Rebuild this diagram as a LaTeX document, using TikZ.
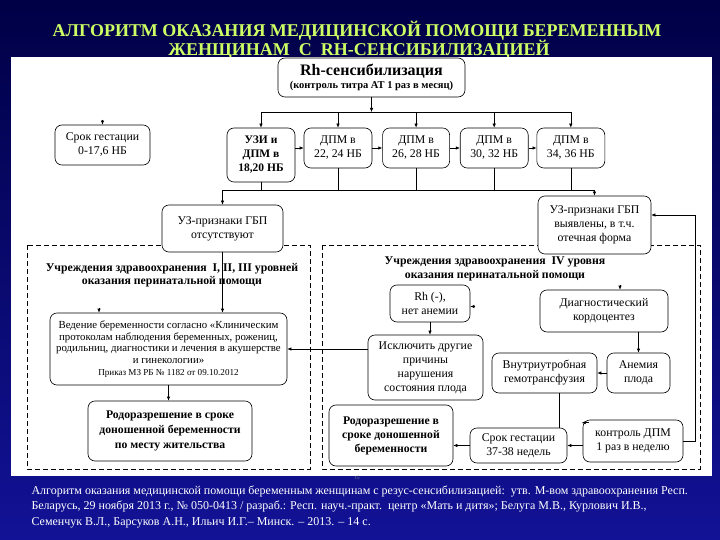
\documentclass[tikz,border=0pt]{standalone}
\usepackage{fontspec}
\setmainfont{Liberation Serif}
\usetikzlibrary{arrows.meta,positioning,calc}

\definecolor{slidetop}{RGB}{0,0,70}
\definecolor{slidebottom}{RGB}{18,18,150}
\definecolor{titlegreen}{RGB}{205,255,100}

\begin{document}
\begin{tikzpicture}[
  x=1pt, y=-1pt,
  font=\fontsize{11.8}{14}\selectfont,
  >={Latex[length=4pt,width=3.4pt]},
  box/.style={draw, rounded corners=7pt, fill=white, align=center, inner sep=1pt, line width=0.6pt},
  sz/.style 2 args={minimum width=#1, minimum height=#2},
  arr/.style={->, line width=0.6pt},
  lnk/.style={line width=0.6pt},
  zone/.style={draw, dash pattern=on 5pt off 3pt, line width=0.7pt},
  head/.style={font=\bfseries\fontsize{11.8}{13.5}\selectfont, align=center}
]
  % slide background and white panel
  \useasboundingbox (0,0) rectangle (720,540);
  \shade[top color=slidetop, bottom color=slidebottom] (0,0) rectangle (720,540);
  \fill[white] (11,57) rectangle (712,476);

  % title
  \node[text=titlegreen, font=\bfseries\fontsize{18}{18}\selectfont] (title1) at (357,31) {АЛГОРИТМ ОКАЗАНИЯ МЕДИЦИНСКОЙ ПОМОЩИ БЕРЕМЕННЫМ};
  \node[text=titlegreen, font=\bfseries\fontsize{18}{18}\selectfont] (title2) at (359,50) {ЖЕНЩИНАМ\ \ С\ \ RH-СЕНСИБИЛИЗАЦИЕЙ};
  \fill[white] (11,57) rectangle (712,60);

  % dashed zones
  \draw[zone] (27,245) rectangle (310,469);
  \draw[zone] (322,245) rectangle (700,469);
  \node[head] (lhead) at (172,275) {Учреждения здравоохранения\ \ I, II, III уровней\\оказания перинатальной помощи};
  \node[head] (rhead) at (495,269) {Учреждения здравоохранения\ \ IV уровня\\оказания перинатальной помощи};

  % upper part
  \node[box, sz={187pt}{39pt}] (rh) at (371.5,77.5) {{\bfseries\fontsize{16}{17}\selectfont Rh-сенсибилизация}\\[-1pt]{\bfseries\fontsize{10.5}{11}\selectfont (контроль титра АТ 1 раз в месяц)}};
  \node[box, sz={95pt}{40pt}] (sg) at (102.5,145) {Срок гестации\\0-17,6 НБ};
  \node[box, sz={68pt}{54pt}, font=\bfseries\fontsize{11.5}{14}\selectfont] (uzi) at (261,155) {УЗИ и\\ДПМ в\\18,20 НБ};
  \node[box, sz={68pt}{40pt}] (d22) at (338,148) {ДПМ в\\22, 24 НБ};
  \node[box, sz={67pt}{40pt}, right=10pt of d22] (d26) {ДПМ в\\26, 28 НБ};
  \node[box, sz={68pt}{40pt}, right=10pt of d26] (d30) {ДПМ в\\30, 32 НБ};
  \node[box, sz={68pt}{40pt}, right=8pt of d30] (d34) {ДПМ в\\34, 36 НБ};
  \node[box, sz={121pt}{47pt}] (gno) at (222.5,228.5) {УЗ-признаки ГБП\\отсутствуют};
  \node[box, sz={113pt}{58pt}] (gyes) at (594.5,225) {УЗ-признаки ГБП\\выявлены, в т.ч.\\отечная форма};

  % left zone
  \node[box, sz={237pt}{72pt}, font=\fontsize{10.8}{11.6}\selectfont] (ved) at (168.5,349) {Ведение беременности согласно «Клиническим\\протоколам наблюдения беременных, рожениц,\\родильниц, диагностики и лечения в акушерстве\\и гинекологии»\\{\fontsize{9.1}{11}\selectfont Приказ МЗ РБ № 1182 от 09.10.2012}};
  \node[box, sz={164pt}{60pt}, font=\bfseries\fontsize{11.7}{15}\selectfont] (rodl) at (170,431) {Родоразрешение в сроке\\доношенной беременности\\по месту жительства};

  % right zone
  \node[box, sz={80pt}{37pt}] (rhneg) at (430,303.5) {Rh (-),\\нет анемии};
  \node[box, sz={115pt}{65pt}] (excl) at (425.5,367.5) {Исключить другие\\причины\\нарушения\\состояния плода};
  \node[box, sz={128pt}{42pt}] (cordo) at (604,311) {Диагностический\\кордоцентез};
  \node[box, sz={63pt}{40pt}] (anem) at (638.5,373) {Анемия\\плода};
  \node[box, sz={105pt}{40pt}] (gemo) at (544.5,373) {Внутриутробная\\гемотрансфузия};
  \node[box, sz={97pt}{35pt}] (srok) at (518.5,445.5) {Срок гестации\\37-38 недель};
  \node[box, sz={124pt}{61pt}, font=\bfseries\fontsize{11.7}{14}\selectfont] (rodr) at (391,435.5) {Родоразрешение в\\сроке доношенной\\беременности};
  \node[box, sz={100pt}{42pt}] (kdpm) at (633,441) {контроль ДПМ\\1 раз в неделю};

  % upper connectors
  \coordinate (bus) at (0,112);
  \coordinate (col) at (0,190);
  \draw[arr] (rh.south) -- (rh.south |- bus);
  \draw[lnk] (uzi.north |- bus) -- (d34.north |- bus);
  \foreach \n in {uzi,d22,d26,d30,d34}
    \draw[arr] (\n.north |- bus) -- (\n.north);
  \draw[arr] (uzi.east |- d22.west) -- (d22.west);
  \draw[arr] (d22.east) -- (d26.west);
  \draw[arr] (d26.east) -- (d30.west);
  \draw[arr] (d30.east) -- (d34.west);
  \foreach \n in {uzi,d22,d26,d30,d34}
    \draw[lnk] (\n.south) -- (\n.south |- col);
  \draw[lnk] (gno.north |- col) -- (gyes.north |- col);
  \draw[arr] (gno.north |- col) -- (gno.north);
  \draw[arr] (gyes.north |- col) -- (gyes.north);

  % lower connectors
  \draw[arr] (gno.south) -- (gno.south |- ved.north);
  \draw[arr] (excl.west |- ved.east) -- (ved.east);
  \draw[arr] (ved.south) -- (ved.south |- rodl.north);
  \draw[arr] (rhneg.south) -- (rhneg.south |- excl.north);
  \draw[arr] (anem.north |- cordo.south) -- (anem.north);
  \draw[arr] (anem.west) -- (gemo.east);
  \draw[lnk] ([xshift=14.5pt]gemo.south) -- ([xshift=14.5pt]gemo.south |- srok.north);
  \draw[arr] (srok.west) -- (srok.west -| rodr.east);
  \draw[arr] (kdpm.west |- srok.east) -- (srok.east);
  \draw[arr] (kdpm.east) -- ++(12,0) |- ([yshift=10pt]gyes.east);

  % loose arrow tips
  \coordinate (sgtip) at ([yshift=5pt]sg.north);
  \coordinate (vedtip) at ([xshift=-69.5pt, yshift=5pt]ved.north);
  \coordinate (rhtip) at ([xshift=5pt, yshift=-3pt]rhneg.east);
  \coordinate (cordotip) at ([xshift=16pt, yshift=5pt]cordo.north);
  \coordinate (kdpmtip) at ([xshift=6pt, yshift=-3pt]kdpm.north west);
  \draw[arr] (sgtip) -- (sg.north);
  \draw[arr] (vedtip) -- (vedtip |- ved.north);
  \draw[arr] (rhtip) -- (rhtip -| rhneg.east);
  \draw[arr] (cordotip) -- (cordotip |- cordo.north);
  \draw[arr] (kdpmtip) -- ++(-7,0);

  \node[text=gray, font=\fontsize{5}{6}\selectfont] (pg) at (357,478) {15};

  % source
  \node[anchor=north west, text=white, align=left, font=\fontsize{12}{15.5}\selectfont] (src) at (28,482) {Алгоритм оказания медицинской помощи беременным женщинам с резус-сенсибилизацией:\ \ утв. М-вом здравоохранения Респ.\\Беларусь, 29 ноября 2013 г., № 050-0413 / разраб.: Респ. науч.-практ.\ \ центр «Мать и дитя»; Белуга М.В., Курлович И.В.,\\Семенчук В.Л., Барсуков А.Н., Ильич И.Г.– Минск. – 2013. – 14 с.};
\end{tikzpicture}
\end{document}
